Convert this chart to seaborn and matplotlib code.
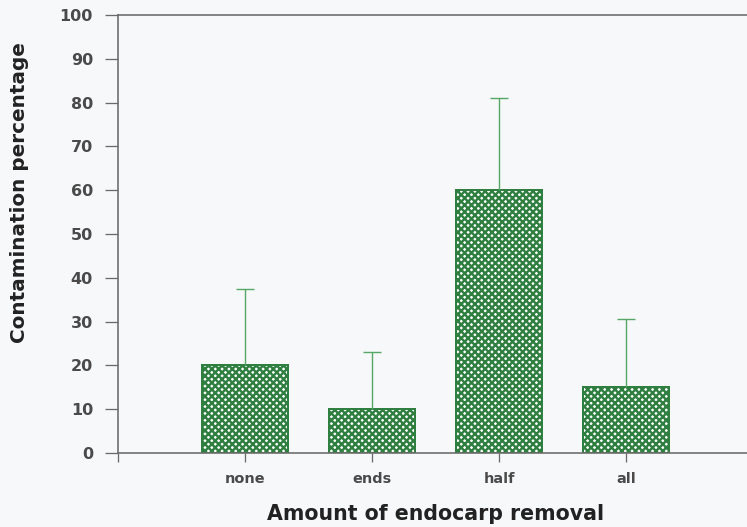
import numpy as np
import matplotlib
matplotlib.use("Agg")
import matplotlib.pyplot as plt
import seaborn as sns

# ── Data ────────────────────────────────────────────────────────────────────
CATEGORIES = ["none", "ends", "half", "all"]
CONTAMINATION = [20, 10, 60, 15]       # bar heights, %
UPPER_ERROR = [17.5, 13, 21, 15.5]     # upper error bar lengths, %
Y_TICKS = [0, 10, 20, 30, 40, 50, 60, 70, 80, 90, 100]

X_LABEL = "Amount of endocarp removal"
Y_LABEL = "Contamination percentage"

# ── Style ───────────────────────────────────────────────────────────────────
DPI = 82                      # hatch cell = 1 inch, so this sets hatch density
W_PX, H_PX = 747, 527
BAR_GREEN = "#2f7f40"
ERR_GREEN = "#55a765"
AXIS_GREY = "#6a6a6a"
TEXT_GREY = "#4a4a4a"
BG = "#f7f8fa"


def px(v):
    """pixels -> points at the figure dpi"""
    return v * 72.0 / DPI


def main():
    sns.set_style("white")
    plt.rcParams["font.family"] = ["DejaVu Sans"]
    plt.rcParams["hatch.linewidth"] = px(2.4)

    fig = plt.figure(figsize=(W_PX / DPI, H_PX / DPI), dpi=DPI, facecolor=BG)
    ax = fig.add_axes([118 / W_PX, 74 / H_PX, 635 / W_PX, 438 / H_PX])
    ax.set_facecolor(BG)

    sns.barplot(
        x=CATEGORIES, y=CONTAMINATION, order=CATEGORIES,
        color="white", saturation=1, width=0.68,
        edgecolor=BAR_GREEN, linewidth=px(2.0),
        errorbar=None, ax=ax,
    )
    for bar in ax.patches:
        bar.set_hatch("xxxx")
        bar.set_edgecolor(BAR_GREEN)
        bar.set_facecolor("white")

    xpos = np.arange(len(CATEGORIES))
    _, caps, _ = ax.errorbar(
        xpos, CONTAMINATION,
        yerr=[np.zeros(len(UPPER_ERROR)), UPPER_ERROR],
        fmt="none", ecolor=ERR_GREEN, elinewidth=px(1.4),
        capsize=px(9), capthick=px(1.4), zorder=1,
    )
    caps[0].set_visible(False)

    ax.set_xlim(-1, 4)
    ax.set_ylim(0, 100)
    ax.set_xticks([-1] + list(xpos))
    ax.set_xticklabels([""] + CATEGORIES)
    ax.set_yticks(Y_TICKS)

    for side in ["left", "bottom", "top"]:
        ax.spines[side].set_visible(True)
        ax.spines[side].set_color(AXIS_GREY)
        ax.spines[side].set_linewidth(px(1.6))
    ax.spines["right"].set_visible(False)

    ax.tick_params(axis="y", direction="out", length=px(13), width=px(1.3),
                   color=AXIS_GREY, pad=px(12), labelsize=px(16),
                   labelcolor=TEXT_GREY, left=True)
    ax.tick_params(axis="x", direction="out", length=px(9), width=px(1.3),
                   color=AXIS_GREY, pad=px(10), labelsize=px(14.5),
                   labelcolor=TEXT_GREY, bottom=True)
    for lab in ax.get_xticklabels() + ax.get_yticklabels():
        lab.set_fontweight("bold")

    ax.set_xlabel(X_LABEL, fontsize=px(20.5), fontweight="bold", color="#222222")
    ax.set_ylabel(Y_LABEL, fontsize=px(20), fontweight="bold", color="#222222")
    ax.xaxis.label.set_va("center")
    ax.yaxis.label.set_va("center")
    ax.xaxis.set_label_coords(0.5, (453 - 514) / 438)
    ax.yaxis.set_label_coords((20 - 118) / 635, (453 - 193) / 438)

    fig.savefig("out.png", dpi=DPI, facecolor=BG)
    print("Saved: out.png")


if __name__ == "__main__":
    main()
